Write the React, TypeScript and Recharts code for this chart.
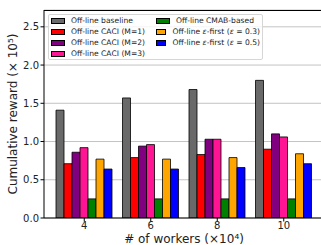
import React from "react";
import { BarChart, Bar, XAxis, YAxis, CartesianGrid, Label } from "recharts";

// ==================== Data ====================

const workers = ["4", "6", "8", "10"];

const baseline = [1.41, 1.57, 1.68, 1.8];
const caciM1 = [0.71, 0.79, 0.83, 0.9];
const caciM2 = [0.86, 0.94, 1.03, 1.1];
const caciM3 = [0.92, 0.96, 1.03, 1.06];
const cmab = [0.25, 0.25, 0.25, 0.25];
const epsFirst03 = [0.77, 0.77, 0.79, 0.84];
const epsFirst05 = [0.64, 0.64, 0.66, 0.71];

const yTicks = [0, 0.5, 1.0, 1.5, 2.0, 2.5];

const series = [
    { key: "baseline", name: "Off-line baseline", color: "#696969", values: baseline },
    { key: "caci1", name: "Off-line CACI (M=1)", color: "#ff0000", values: caciM1 },
    { key: "caci2", name: "Off-line CACI (M=2)", color: "#800080", values: caciM2 },
    { key: "caci3", name: "Off-line CACI (M=3)", color: "#ff1493", values: caciM3 },
    { key: "cmab", name: "Off-line CMAB-based", color: "#008000", values: cmab },
    { key: "eps03", name: "eps|0.3", color: "#ffa500", values: epsFirst03 },
    { key: "eps05", name: "eps|0.5", color: "#0000ff", values: epsFirst05 },
];

const data = workers.map((w, i) => {
    const row: Record<string, number | string> = { workers: w };
    series.forEach((s) => (row[s.key] = s.values[i]));
    return row;
});

const FONT = "DejaVu Sans, sans-serif";

// ==================== Legend ====================

const LegendLabel = ({ name }: { name: string }) => {
    if (name.startsWith("eps|")) {
        const v = name.split("|")[1];
        return (
            <span>
                Off-line <i>ε</i>-first (<i>ε</i> = {v})
            </span>
        );
    }
    return <span>{name}</span>;
};

const LegendBox = () => {
    const cols = [series.slice(0, 4), series.slice(4)];
    return (
        <div
            style={{
                position: "absolute",
                left: 48,
                top: 14,
                display: "flex",
                boxSizing: "border-box",
                background: "rgba(255,255,255,0.8)",
                border: "1px solid #d6d6d6",
                borderRadius: 2,
                padding: "0px 2px",
                fontFamily: FONT,
                fontSize: 7.6,
                lineHeight: 1,
                color: "#222",
                width: 215,
                height: 46,
                whiteSpace: "nowrap",
            }}
        >
            {cols.map((col, ci) => (
                <div key={ci} style={{ width: ci === 0 ? 106 : 104 }}>
                    {col.map((s) => (
                        <div key={s.key} style={{ display: "flex", alignItems: "center", height: 11 }}>
                            <span
                                style={{
                                    display: "inline-block",
                                    boxSizing: "border-box",
                                    width: 14,
                                    height: 6,
                                    background: s.color,
                                    border: "1px solid #000",
                                    marginRight: 6,
                                }}
                            />
                            <LegendLabel name={s.name} />
                        </div>
                    ))}
                </div>
            ))}
        </div>
    );
};

// ==================== Component ====================

const App: React.FC = () => {
    return (
        <div
            style={{
                position: "fixed",
                left: 0,
                top: 0,
                width: 321,
                height: 245,
                overflow: "hidden",
                background: "#fff",
            }}
        >
            <BarChart
                width={340}
                height={245}
                data={data}
                margin={{ top: 10, right: 16, bottom: 0, left: 0 }}
                barGap={0}
                barSize={8}
            >
                <CartesianGrid vertical={false} stroke="#c4c4c4" strokeWidth={1} />
                <XAxis
                    dataKey="workers"
                    height={27}
                    padding={{ left: 7, right: 7 }}
                    stroke="#000"
                    tickSize={3.5}
                    tickMargin={0}
                    tick={{ fill: "#222", fontSize: 10, fontFamily: FONT }}
                >
                    <Label
                        value="# of workers (×10⁴)"
                        position="insideBottom"
                        offset={2.5}
                        style={{ fill: "#222", fontSize: 12, fontFamily: FONT }}
                    />
                </XAxis>
                <YAxis
                    width={44}
                    domain={[0, 2.72]}
                    ticks={yTicks}
                    allowDataOverflow
                    stroke="#000"
                    tickSize={3.5}
                    tickMargin={1.5}
                    tickFormatter={(v: number) => v.toFixed(1)}
                    tick={{ fill: "#222", fontSize: 10, fontFamily: FONT }}
                >
                    <Label
                        value="Cumulative reward (× 10⁵)"
                        angle={-90}
                        position="insideLeft"
                        offset={13}
                        style={{ textAnchor: "middle", fill: "#222", fontSize: 12, fontFamily: FONT }}
                    />
                </YAxis>
                {series.map((s) => (
                    <Bar
                        key={s.key}
                        dataKey={s.key}
                        name={s.name}
                        fill={s.color}
                        stroke="#000"
                        strokeWidth={0.8}
                        isAnimationActive={false}
                    />
                ))}
            </BarChart>
            <div
                style={{
                    position: "absolute",
                    left: 44,
                    top: 10,
                    width: 300,
                    height: 0,
                    borderTop: "1px solid #000",
                }}
            />
            <LegendBox />
        </div>
    );
};

export default App;
